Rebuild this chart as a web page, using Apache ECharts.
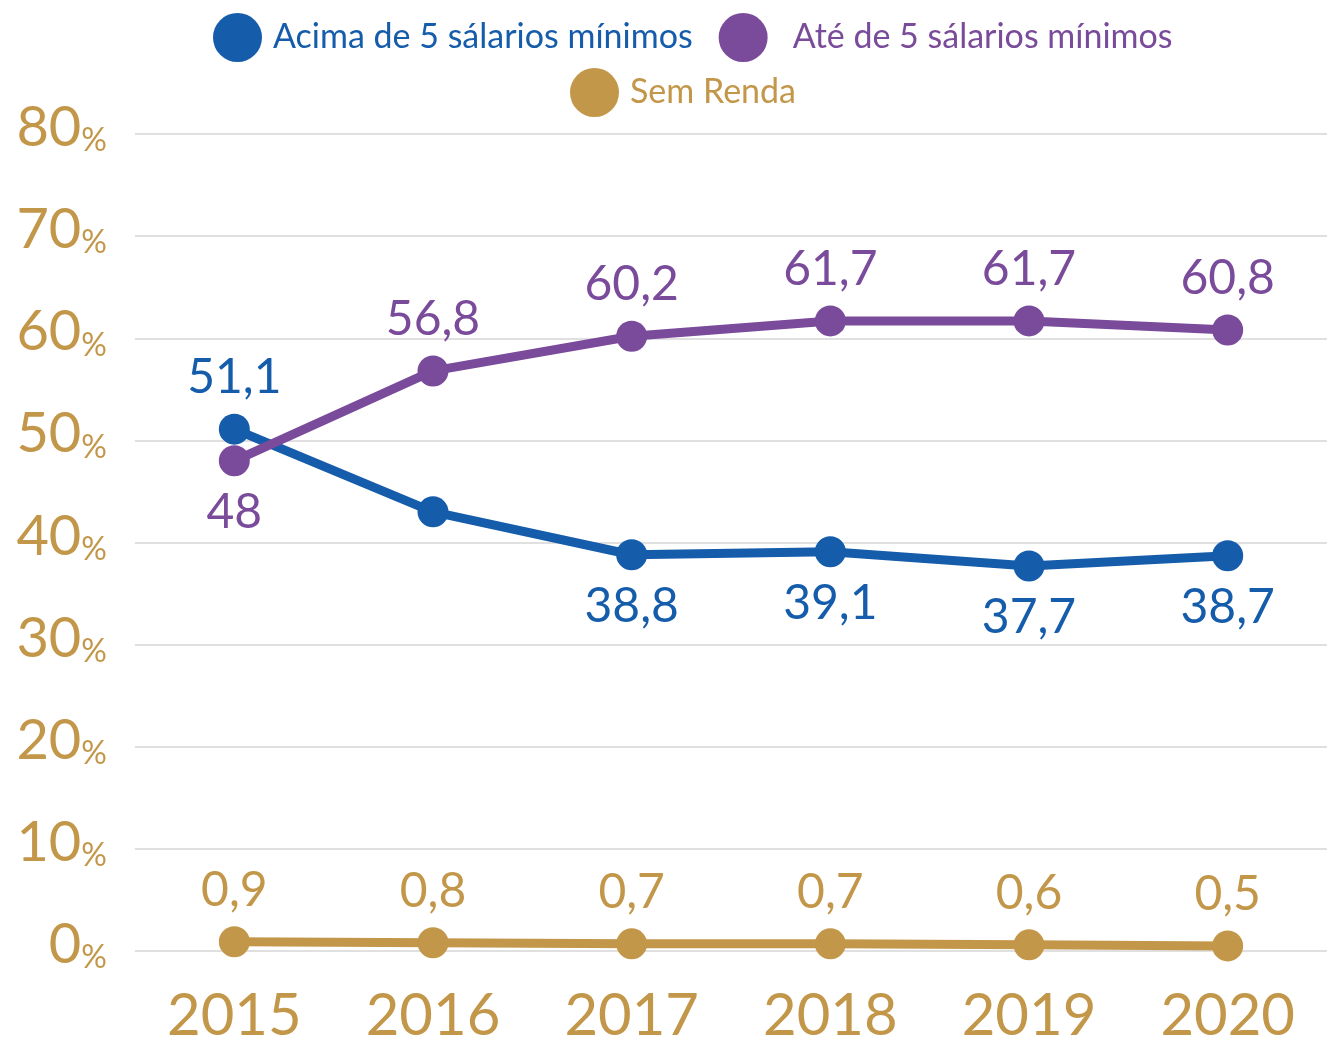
<!DOCTYPE html>
<html lang="pt-BR" style="height: 100%">
    <head>
        <meta charset="utf-8" />
    </head>
    <body style="height: 100%; margin: 0; background: #fff">
        <div id="container" style="width: 1327px; height: 1045px"></div>

        <script
            type="text/javascript"
            src="https://fastly.jsdelivr.net/npm/echarts@6.0.0/dist/echarts.min.js"
        ></script>

        <script type="text/javascript">
            var years = ['2015', '2016', '2017', '2018', '2019', '2020'];
            var acima = [51.1, 43.0, 38.8, 39.1, 37.7, 38.7];
            var ate = [48, 56.8, 60.2, 61.7, 61.7, 60.8];
            var semRenda = [0.9, 0.8, 0.7, 0.7, 0.6, 0.5];
            var yTicks = [0, 10, 20, 30, 40, 50, 60, 70, 80];

            var BLUE = '#155cab';
            var PURPLE = '#7a4b9b';
            var GOLD = '#c3974a';
            var FONT = 'Lato, "DejaVu Sans", sans-serif';

            var dom = document.getElementById('container');
            var myChart = echarts.init(dom, null, { renderer: 'canvas' });

            function fmt(p) {
                return String(p.value).replace('.', ',');
            }

            // first point of each line gets its label on the other side
            function withLabels(values, firstPos, restPos, hideIdx) {
                return values.map(function (v, i) {
                    var item = { value: v, label: { position: i === 0 ? firstPos : restPos } };
                    if (i === hideIdx) item.label.show = false;
                    return item;
                });
            }

            function lineSeries(name, color, data) {
                return {
                    name: name,
                    type: 'line',
                    data: data,
                    symbol: 'circle',
                    symbolSize: 31,
                    lineStyle: { width: 9, color: color },
                    itemStyle: { color: color },
                    label: {
                        show: true,
                        formatter: fmt,
                        color: color,
                        fontFamily: FONT,
                        fontSize: 48,
                        distance: 12
                    },
                    emphasis: { disabled: true },
                    animation: false
                };
            }

            var option = {
                backgroundColor: '#fff',
                textStyle: { fontFamily: FONT },
                legend: [
                    {
                        data: ['Acima de 5 sálarios mínimos', 'Até de 5 sálarios mínimos'],
                        left: 208,
                        top: 8,
                        icon: 'circle',
                        itemWidth: 49,
                        itemHeight: 49,
                        itemGap: 26,
                        textStyle: { fontSize: 34, fontFamily: FONT },
                        selectedMode: false
                    },
                    {
                        data: ['Sem Renda'],
                        left: 565,
                        top: 63,
                        icon: 'circle',
                        itemWidth: 49,
                        itemHeight: 49,
                        textStyle: { fontSize: 34, fontFamily: FONT },
                        selectedMode: false
                    }
                ],
                grid: { left: 135, right: 0, top: 134, bottom: 92, containLabel: false },
                xAxis: {
                    type: 'category',
                    data: years,
                    boundaryGap: true,
                    axisLine: { show: false },
                    axisTick: { show: false },
                    axisLabel: {
                        color: GOLD,
                        fontSize: 58,
                        fontFamily: FONT,
                        margin: 36
                    }
                },
                yAxis: {
                    type: 'value',
                    min: yTicks[0],
                    max: yTicks[yTicks.length - 1],
                    interval: 10,
                    axisLine: { show: false },
                    axisTick: { show: false },
                    splitLine: { lineStyle: { color: '#e0e0e0', width: 2 } },
                    axisLabel: {
                        margin: 28,
                        formatter: function (v) {
                            return '{n|' + v + '}{p|%}';
                        },
                        rich: {
                            n: { color: GOLD, fontSize: 56, fontFamily: FONT, padding: [0, 0, 12, 0] },
                            p: { color: GOLD, fontSize: 32, fontFamily: FONT, padding: [14, 0, 0, 0] }
                        }
                    }
                },
                series: [
                    lineSeries('Acima de 5 sálarios mínimos', BLUE, withLabels(acima, 'top', 'bottom', 1)),
                    lineSeries('Até de 5 sálarios mínimos', PURPLE, withLabels(ate, 'bottom', 'top', -1)),
                    lineSeries('Sem Renda', GOLD, withLabels(semRenda, 'top', 'top', -1))
                ]
            };

            option.legend.forEach(function (lg) {
                lg.data = lg.data.map(function (n) {
                    var c = n === 'Sem Renda' ? GOLD : n.indexOf('Acima') === 0 ? BLUE : PURPLE;
                    var ts = { color: c, padding: [0, 0, 0, c === PURPLE ? 20 : 6] };
                    return { name: n, textStyle: ts };
                });
            });

            myChart.setOption(option);
            window.addEventListener('resize', myChart.resize);
        </script>
    </body>
</html>
